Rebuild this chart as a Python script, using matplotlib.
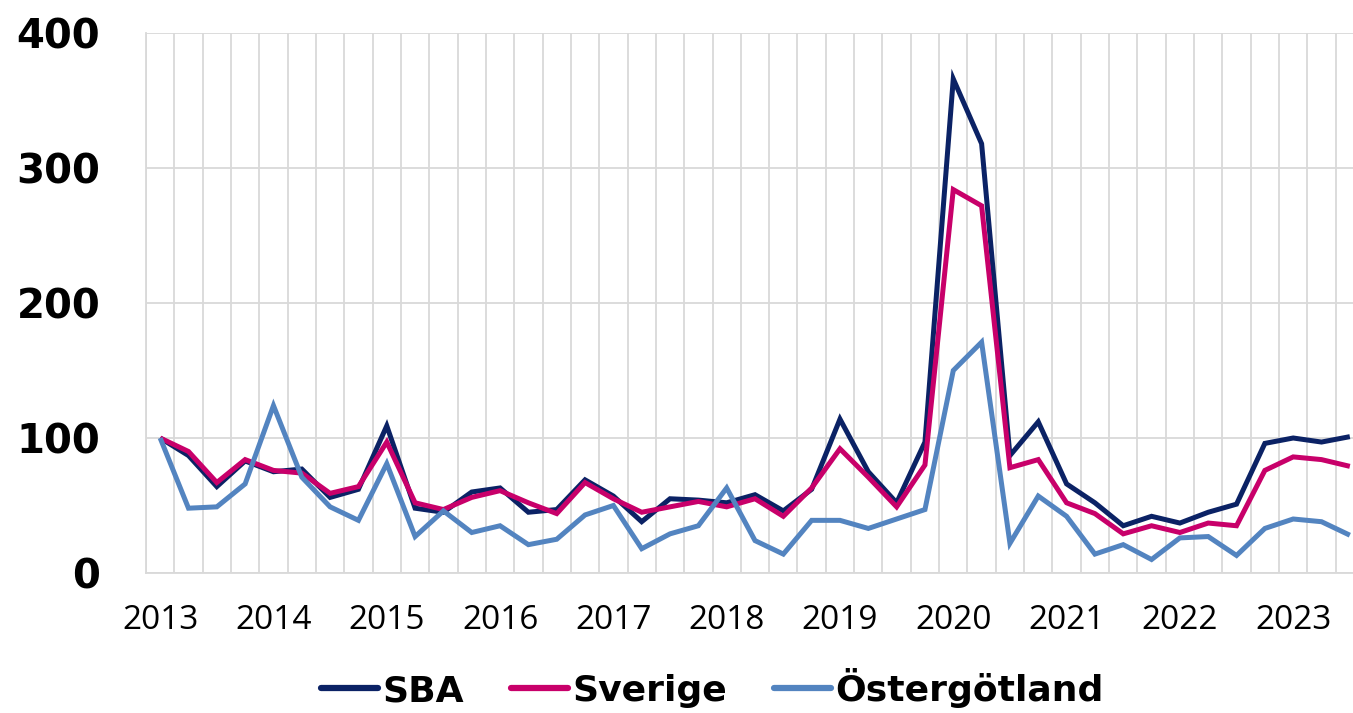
import matplotlib.pyplot as plt
import numpy as np

# quarterly index, 2013 Q1 .. 2023 Q3
years = list(range(2013, 2024))
sba = [100, 87, 64, 83, 75, 77, 56, 62, 109, 48,
       45, 60, 63, 45, 47, 69, 57, 38, 55, 54,
       52, 58, 46, 62, 114, 75, 52, 97, 366, 318,
       87, 112, 66, 52, 35, 42, 37, 45, 51, 96,
       100, 97, 101]
sverige = [100, 90, 67, 84, 76, 74, 59, 64, 97, 52,
           47, 56, 61, 52, 44, 67, 55, 45, 49, 53,
           49, 55, 42, 63, 92, 71, 49, 80, 284, 272,
           78, 84, 52, 44, 29, 35, 30, 37, 35, 76,
           86, 84, 79]
ostergotland = [100, 48, 49, 66, 124, 71, 49, 39, 81, 27,
                46, 30, 35, 21, 25, 43, 50, 18, 29, 35,
                63, 24, 14, 39, 39, 33, 40, 47, 150, 171,
                22, 57, 42, 14, 21, 10, 26, 27, 13, 33,
                40, 38, 28]

series = [('SBA', sba, '#0B2265'),
          ('Sverige', sverige, '#C8006A'),
          ('Östergötland', ostergotland, '#5384C0')]

fig = plt.figure(figsize=(13.53, 7.13), dpi=100)
ax = fig.add_axes([146/1353, 140/713, 1218/1353, 540/713])

x = np.arange(len(sba))
for name, vals, col in series:
    ax.plot(x, vals, color=col, lw=3.6, label=name, solid_joinstyle='miter',
            solid_capstyle='butt')

ax.set_xlim(-0.5, len(sba) - 0.5)
ax.set_ylim(0, 400)
ax.set_yticks([0, 100, 200, 300, 400])
ax.set_xticks(np.arange(0, len(sba), 4))
ax.set_xticklabels([str(y) for y in years])

# grid lines between quarters
ax.set_xticks(np.arange(-0.5, len(sba), 1), minor=True)
ax.grid(True, which='minor', axis='x', color='#D9D9D9', lw=1.3)
ax.grid(True, which='major', axis='y', color='#D9D9D9', lw=1.3)
ax.set_axisbelow(True)
for s in ['top', 'right']:
    ax.spines[s].set_visible(False)
for s in ['left', 'bottom']:
    ax.spines[s].set_color('#D9D9D9')
    ax.spines[s].set_linewidth(1.3)

ax.tick_params(which='both', length=0)
ax.tick_params(axis='y', pad=33)
ax.tick_params(axis='x', pad=22)
for t in ax.get_yticklabels():
    t.set_fontfamily('DejaVu Sans')
    t.set_fontweight('bold')
    t.set_fontsize(29)
for t in ax.get_xticklabels():
    t.set_fontfamily('Open Sans')
    t.set_fontsize(24)

leg = fig.legend(loc='center', bbox_to_anchor=(712/1353, 25/713), ncol=3,
                 frameon=False, handlelength=1.6, handletextpad=0.1,
                 columnspacing=1.3, borderaxespad=0,
                 prop={'family': 'DejaVu Sans', 'weight': 'bold', 'size': 26})
for line in leg.get_lines():
    line.set_linewidth(4.5)
    line.set_solid_capstyle('round')

fig.savefig('out.png', dpi=100)
